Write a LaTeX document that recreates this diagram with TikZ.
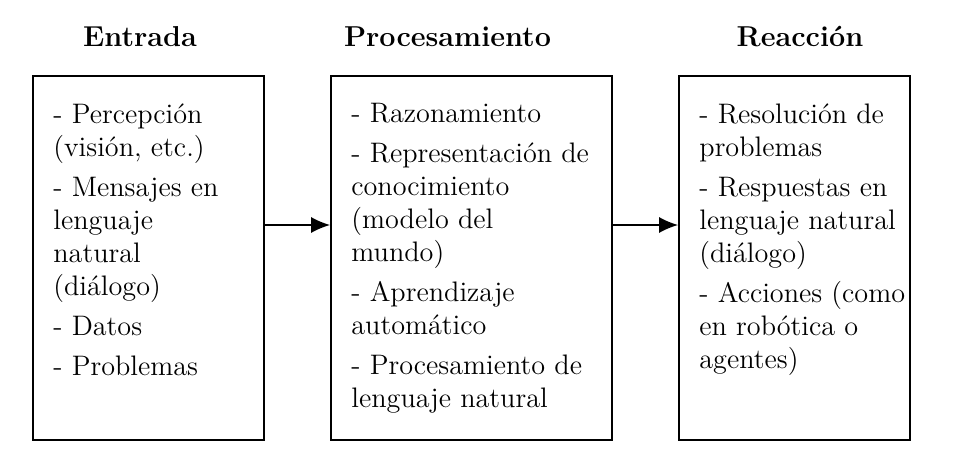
\documentclass[tikz,border=0pt]{standalone}
\usepackage{fontspec}
\usetikzlibrary{arrows.meta}
\begin{document}
\begin{tikzpicture}[x=0.5pt,y=-0.5pt,
  box/.style={draw, line width=0.9pt, minimum height=182pt, inner sep=0pt},
  txt/.style={anchor=north west, inner sep=0pt, align=left, font=\fontsize{14.1}{16.5}\selectfont},
  ttl/.style={anchor=base, inner sep=0pt, font=\fontsize{14.4}{16.5}\selectfont\bfseries},
  arr/.style={line width=0.75pt, -{Latex[length=9.5pt,width=8pt]}}
]
\useasboundingbox (0,0) rectangle (958,460);
\node[ttl] (t1) at (140,47) {Entrada};
\node[ttl] (t2) at (447.5,47) {Procesamiento};
\node[ttl] (t3) at (800,47) {Reacción};
\node[box, minimum width=115.5pt] (in) at (148.5,258) {};
\node[box, minimum width=140.5pt] (proc) at (471.5,258) {};
\node[box, minimum width=115.5pt] (out) at (794.5,258) {};
\node[txt] (x1) at (53,103) {- Percepción\\(visión, etc.)\\[3.5pt]- Mensajes en\\lenguaje\\natural\\(diálogo)\\[3.5pt]- Datos\\[3.5pt]- Problemas};
\node[txt] (x2) at (351,103) {- Razonamiento\\[3.5pt]- Representación de\\conocimiento\\(modelo del\\mundo)\\[3.5pt]- Aprendizaje\\automático\\[3.5pt]- Procesamiento de\\lenguaje natural};
\node[txt] (x3) at (699,103) {- Resolución de\\problemas\\[3.5pt]- Respuestas en\\lenguaje natural\\(diálogo)\\[3.5pt]- Acciones (como\\en robótica o\\agentes)};
\coordinate (ay) at (0,225);
\draw[arr] (in.east |- ay) -- (proc.west |- ay);
\draw[arr] (proc.east |- ay) -- (out.west |- ay);
\end{tikzpicture}
\end{document}
